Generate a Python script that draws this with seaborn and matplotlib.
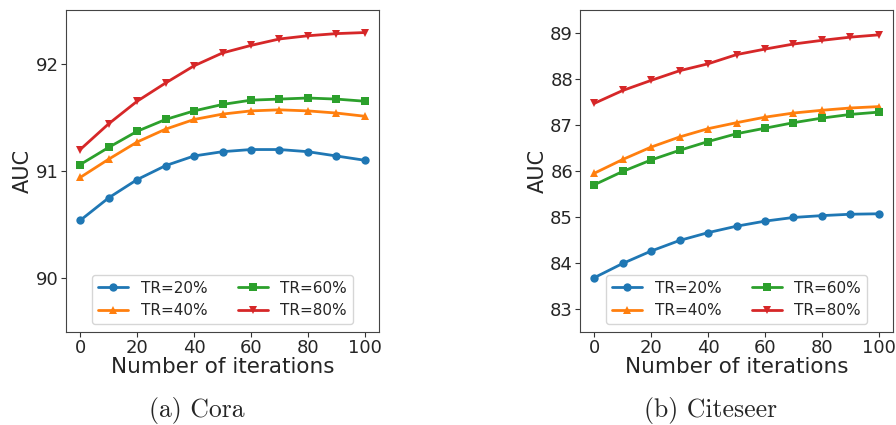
import numpy as np
import pandas as pd
import seaborn as sns
import matplotlib.pyplot as plt

# iterations on the x axis
iterations = [0, 10, 20, 30, 40, 50, 60, 70, 80, 90, 100]
tr_labels = ["TR=20%", "TR=40%", "TR=60%", "TR=80%"]

# Cora AUC
cora_tr20 = [90.54, 90.75, 90.92, 91.05, 91.14, 91.18, 91.20, 91.20, 91.18, 91.14, 91.10]
cora_tr40 = [90.94, 91.11, 91.27, 91.39, 91.48, 91.53, 91.56, 91.57, 91.56, 91.54, 91.51]
cora_tr60 = [91.06, 91.22, 91.37, 91.48, 91.56, 91.62, 91.66, 91.67, 91.68, 91.67, 91.65]
cora_tr80 = [91.20, 91.44, 91.65, 91.82, 91.98, 92.10, 92.17, 92.23, 92.26, 92.28, 92.29]

# Citeseer AUC
cite_tr20 = [83.68, 83.99, 84.26, 84.49, 84.66, 84.80, 84.91, 84.99, 85.03, 85.06, 85.07]
cite_tr40 = [85.95, 86.25, 86.52, 86.74, 86.92, 87.05, 87.17, 87.26, 87.32, 87.37, 87.40]
cite_tr60 = [85.70, 85.99, 86.24, 86.45, 86.64, 86.81, 86.93, 87.05, 87.15, 87.23, 87.28]
cite_tr80 = [87.47, 87.75, 87.97, 88.18, 88.33, 88.53, 88.65, 88.76, 88.84, 88.91, 88.96]


def to_long(series):
    rows = []
    for lab, vals in zip(tr_labels, series):
        for it, v in zip(iterations, vals):
            rows.append({"iter": it, "AUC": v, "TR": lab})
    return pd.DataFrame(rows)


df_cora = to_long([cora_tr20, cora_tr40, cora_tr60, cora_tr80])
df_cite = to_long([cite_tr20, cite_tr40, cite_tr60, cite_tr80])

sns.set_style("ticks")
plt.rcParams["font.family"] = ["DejaVu Sans"]

fig = plt.figure(figsize=(8.96, 4.25), dpi=100)
ax1 = fig.add_axes([66 / 896, 1 - 332 / 425, 313 / 896, 322 / 425])
ax2 = fig.add_axes([580 / 896, 1 - 332 / 425, 313 / 896, 322 / 425])

palette = ["#1f77b4", "#ff7f0e", "#2ca02c", "#d62728"]
markers = ["o", "^", "s", "v"]

for ax, df, ylim, yticks in [
    (ax1, df_cora, (89.5, 92.5), [90, 91, 92]),
    (ax2, df_cite, (82.5, 89.5), [83, 84, 85, 86, 87, 88, 89]),
]:
    sns.lineplot(data=df, x="iter", y="AUC", hue="TR", style="TR",
                 palette=palette, markers=markers, dashes=False,
                 linewidth=2, markersize=6, markeredgewidth=0, ax=ax)
    ax.set_xlim(-5, 105)
    ax.set_ylim(*ylim)
    ax.set_xticks([0, 20, 40, 60, 80, 100])
    ax.set_yticks(yticks)
    ax.tick_params(labelsize=13, color="#333333", length=3.5, pad=1.5)
    ax.set_xlabel("Number of iterations", fontsize=15.5, labelpad=0)
    ax.set_ylabel("AUC", fontsize=15, labelpad=2)
    for sp in ax.spines.values():
        sp.set_visible(True)
        sp.set_color("#444444")
    ax.legend(ncol=2, loc="lower center", fontsize=11, columnspacing=2.0,
              handlelength=2.0, title=None)

fig.text(197 / 896, 1 - 410 / 425, "(a) Cora", family="cmr10", fontsize=18.5,
         ha="center", va="center")
fig.text(711 / 896, 1 - 410 / 425, "(b) Citeseer", family="cmr10", fontsize=18.5,
         ha="center", va="center")

fig.savefig("out.png", dpi=100)
